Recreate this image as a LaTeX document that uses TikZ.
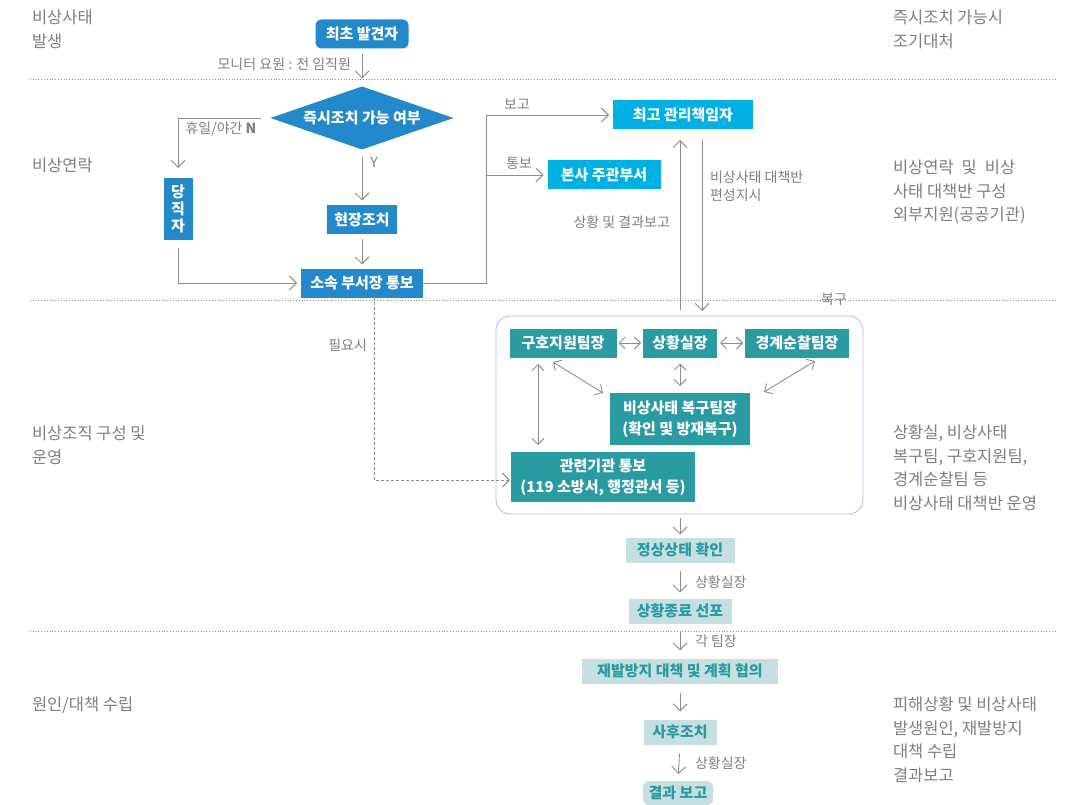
\documentclass[tikz,border=0pt]{standalone}
\usepackage{fontspec}
\setmainfont{Noto Sans CJK KR}
\usetikzlibrary{arrows.meta,shapes.geometric,calc}
\definecolor{blueN}{HTML}{2389CB}
\definecolor{cyanN}{HTML}{00B0E2}
\definecolor{tealN}{HTML}{2A9BA0}
\definecolor{lightN}{HTML}{C6DFE2}
\definecolor{txtG}{HTML}{7F7F7F}
\definecolor{lineG}{HTML}{8E8E8E}
\definecolor{boxB}{HTML}{BDB8E2}
\begin{document}
\begin{tikzpicture}[x=1pt,y=-1pt,
  every node/.style={inner sep=0pt, outer sep=0pt},
  lbl/.style={text=txtG, font=\fontsize{16.5}{23.5}\selectfont, align=left, anchor=north west},
  sl/.style={text=txtG, font=\fontsize{14}{18}\selectfont},
  nodefont/.style={font=\fontsize{15}{21}\selectfont\bfseries, align=center},
  bn/.style={nodefont, fill=blueN, text=white, minimum height=29pt},
  cn/.style={nodefont, fill=cyanN, text=white, minimum height=29pt},
  tn/.style={nodefont, fill=tealN, text=white, minimum height=29pt},
  ln/.style={nodefont, fill=lightN, text=tealN, minimum height=25pt},
  arr/.style={draw=lineG, line width=0.9pt, -{Straight Barb[length=7pt,width=14pt]}},
  darr/.style={draw=lineG, line width=0.9pt, {Straight Barb[length=6pt,width=12pt]}-{Straight Barb[length=6pt,width=12pt]}},
  sepline/.style={draw=lineG, dotted, line width=0.8pt},
  dasharr/.style={draw=lineG, dash pattern=on 3pt off 2pt, line width=0.9pt, -{Straight Barb[length=7pt,width=14pt]}}
]
\useasboundingbox (0,0) rectangle (1087,805);

% separators
\draw[sepline] (30,79) -- (1055,79);
\draw[sepline] (30,300) -- (1055,300);
\draw[sepline] (30,631) -- (1055,631);

% left stage labels
\node[lbl] (L1) at (32,10) {비상사태\\발생};
\node[lbl] (L2) at (32,158) {비상연락};
\node[lbl] (L3) at (32,426) {비상조직 구성 및\\운영};
\node[lbl] (L4) at (32,697) {원인/대책 수립};

% right notes
\node[lbl] (R1) at (893,10) {즉시조치 가능시\\조기대처};
\node[lbl] (R2) at (893,160) {비상연락\hspace{8pt}및\hspace{8pt}비상\\사태 대책반 구성\\외부지원(공공기관)};
\node[lbl] (R3) at (893,425) {상황실, 비상사태\\복구팀, 구호지원팀,\\경계순찰팀 등\\비상사태 대책반 운영};
\node[lbl] (R4) at (893,697) {피해상황 및 비상사태\\발생원인, 재발방지\\대책 수립\\결과보고};

% top flow nodes
\node[bn, rounded corners=6pt, minimum width=93pt] (fd) at (362,34) {최초 발견자};
\node[diamond, aspect=2.9, fill=blueN, text=white, font=\fontsize{15}{21}\selectfont\bfseries,
      minimum width=183pt, minimum height=63pt] (dia) at (362,118) {즉시조치 가능 여부};
\node[bn, minimum width=29pt, minimum height=62pt, font=\fontsize{15}{17}\selectfont\bfseries] (dj) at (178,209) {당\\직\\자};
\node[bn, minimum width=70pt] (hj) at (362,220) {현장조치};
\node[bn, minimum width=122pt] (sb) at (362,283) {소속 부서장 통보};
\node[cn, minimum width=140pt] (ch) at (683,115) {최고 관리책임자};
\node[cn, minimum width=113pt] (bs) at (604,175) {본사 주관부서};

% emergency organisation box
\draw[boxB, line width=0.9pt, rounded corners=14pt] (496,316) rectangle (863,514);
\node[tn, minimum width=107pt] (gh) at (563,343) {구호지원팀장};
\node[tn, minimum width=74pt] (sr) at (680,343) {상황실장};
\node[tn, minimum width=104pt] (gs) at (797,343) {경계순찰팀장};
\node[tn, minimum width=140pt, minimum height=52pt] (bg) at (680,419) {비상사태 복구팀장\\(확인 및 방재복구)};
\node[tn, minimum width=184pt, minimum height=50pt] (gg) at (603,477) {관련기관 통보\\(119 소방서, 행정관서 등)};

% lower flow
\node[ln, minimum width=109pt] (js) at (680,550) {정상상태 확인};
\node[ln, minimum width=103pt] (sj) at (680,611) {상황종료 선포};
\node[ln, minimum width=196pt] (jb) at (680,671) {재발방지 대책 및 계획 협의};
\node[ln, minimum width=73pt] (sh) at (680,732) {사후조치};
\node[ln, rounded corners=6pt, minimum width=70pt, minimum height=24pt] (gb) at (678,793) {결과 보고};

% connectors top
\draw[arr, shorten <=6pt, shorten >=8pt] (fd.south) -- (dia.north);
\node[sl, anchor=east] (mon) at (351,64) {모니터 요원 : 전 임직원};
\draw[arr, shorten <=10pt, shorten >=10pt] (dia.west) -| (dj.north);
\node[sl] (nlab) at (221,129) {휴일/야간 \textbf{N}};
\draw[arr, shorten <=8pt, shorten >=5pt] (dia.south) -- (hj.north);
\node[sl] (ylab) at (374,162) {Y};
\draw[arr, shorten <=5pt, shorten >=4pt] (hj.south) -- (sb.north);
\draw[arr, shorten <=8pt, shorten >=4pt] (dj.south) |- (sb.west);
\coordinate (jn) at (486,283);
\draw[arr, shorten >=4pt] (sb.east) -- (jn) |- (ch.west);
\draw[arr, shorten >=4pt] (jn |- bs.west) -- (bs.west);
\node[sl] (bogo) at (517,104) {보고};
\node[sl] (tongbo) at (519,163) {통보};

% vertical exchange with top manager
\coordinate (upB) at (680,316);
\coordinate (upT) at (680,129);
\coordinate (dnT) at (702,129);
\coordinate (dnB) at (702,316);
\draw[arr, shorten <=6pt, shorten >=11pt] (upB) -- (upT);
\draw[arr, shorten <=11pt, shorten >=5pt] (dnT) -- (dnB);
\node[sl, anchor=east] (sgb) at (670,222) {상황 및 결과보고};
\node[sl, anchor=north west, align=left] (pj) at (710,171) {비상사태 대책반\\편성지시};
\node[sl] (bokgu) at (834,299) {복구};

% inner box arrows
\draw[darr, shorten <=2pt, shorten >=2pt] (gh.east) -- (sr.west);
\draw[darr, shorten <=3pt, shorten >=2pt] (sr.east) -- (gs.west);
\draw[darr, shorten <=6pt, shorten >=7pt] (sr.south) -- (bg.north);
\coordinate (d1a) at (553,362);
\coordinate (d1b) at (603,393);
\draw[darr] (d1a) -- (d1b);
\coordinate (d2a) at (815,361);
\coordinate (d2b) at (764,392);
\draw[darr] (d2a) -- (d2b);
\coordinate (v1a) at (538,357);
\coordinate (v1b) at (538,452);
\draw[darr, shorten <=7pt, shorten >=7pt] (v1a) -- (v1b);

% dashed as-needed
\coordinate (dsT) at (374,297);
\draw[dasharr, shorten >=1pt] (dsT) |- (gg.west |- 0,480);
\node[sl, anchor=east] (pys) at (367,345) {필요시};

% lower flow arrows
\coordinate (bxB) at (680,514);
\draw[arr, shorten <=4pt, shorten >=3pt] (bxB) -- (js.north);
\draw[arr, shorten <=8pt, shorten >=6pt] (js.south) -- (sj.north);
\node[sl, anchor=west] (l1) at (695,582) {상황실장};
\draw[arr, shorten <=8pt, shorten >=8pt] (sj.south) -- (jb.north);
\node[sl, anchor=west] (l2) at (695,641) {각 팀장};
\draw[arr, shorten <=9pt, shorten >=8pt] (jb.south) -- (sh.north);
\draw[arr, shorten <=9pt, shorten >=7pt] (sh.south) -- (gb.north);
\node[sl, anchor=west] (l3) at (695,763) {상황실장};
\end{tikzpicture}
\end{document}
